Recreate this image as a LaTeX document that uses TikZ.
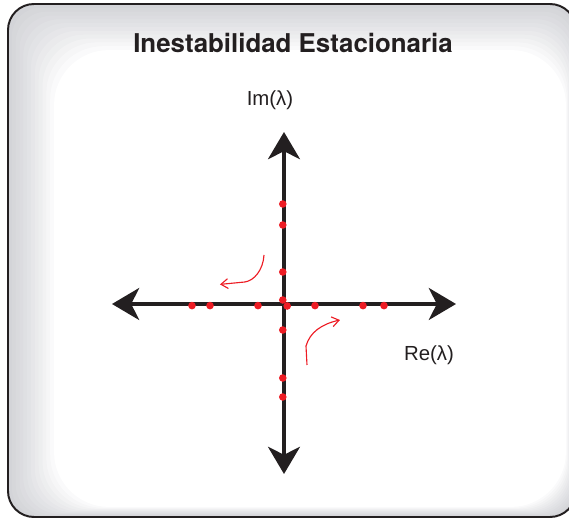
\documentclass[tikz,border=0pt]{standalone}
\usepackage{fontspec}
\setmainfont{Liberation Sans}
\newfontfamily\titlefont{TeX Gyre Heros}
\usepackage{xcolor}
\usepackage{tikz}
\usetikzlibrary{arrows.meta, positioning}
\definecolor{myred}{HTML}{ED1C24}
\definecolor{myblack}{HTML}{231F20}
\definecolor{shadowgray}{HTML}{9496A0}

\begin{document}
\begin{tikzpicture}[
  axis/.style={line width=2.5pt, color=myblack, {Stealth[length=0.68cm, width=0.8cm, inset=0.2cm]}-{Stealth[length=0.68cm, width=0.8cm, inset=0.2cm]}},
  root/.style={circle, fill=myred, inner sep=0pt, minimum size=0.19cm},
  path/.style={-{Straight Barb[length=5pt, width=7pt]}, line width=0.8pt, color=myred},
  label/.style={font=\fontsize{14.5}{16}\selectfont, text=myblack},
  title/.style={font=\titlefont\bfseries\fontsize{18.4}{20}\selectfont, text=myblack},
]
\useasboundingbox (-7.1,-5.4) rectangle (7.125,7.6);

% frame with inner shadow
\begin{scope}
  \clip[rounded corners=0.65cm] (-6.9,-5.325) rectangle (7.3,7.5);
  \foreach \i [evaluate=\i as \r using 0.65+0.06*\i] in {1,...,12}
    \fill[shadowgray, opacity=0.045, even odd rule] (-8,-7) rectangle (9,9)
      [rounded corners=\r cm] (-6.9+0.096*\i,-5.325+0.021*\i) rectangle (7.3-0.021*\i,7.5-0.096*\i);
\end{scope}
\draw[myblack, line width=1.4pt, rounded corners=0.65cm] (-6.9,-5.325) rectangle (7.3,7.5);

\node[title] (title) at (0.225,6.525) {Inestabilidad Estacionaria};

% axes
\coordinate (o) at (0,0);
\coordinate (west) at (-4.3,0);
\coordinate (east) at (4.3,0);
\coordinate (north) at (0,4.3);
\coordinate (south) at (0,-4.25);
\draw[axis] (west) -- (east);
\draw[axis] (south) -- (north);

\node[label] (im) at (-0.35,5.1) {Im(λ)};
\node[label] (re) at (3.625,-1.275) {Re(λ)};

% eigenvalues
\foreach \y [count=\k] in {2.5,1.975,0.8,-0.65,-1.85,-2.325}
  \node[root] (v\k) at (-0.03,\y) {};
\foreach \x [count=\k] in {-2.3,-1.85,-0.65,0.775,1.975,2.5}
  \node[root] (h\k) at (\x,-0.04) {};
\node[root] (c1) at (-0.03,0.1) {};
\node[root] (c2) at (0.08,-0.05) {};

% motion of the roots
\coordinate (a1) at (-0.5,1.225);
\coordinate (a2) at (-1.6,0.49);
\coordinate (b1) at (0.575,-1.525);
\coordinate (b2) at (1.4,-0.4);
\draw[path] (a1) .. controls (-0.52,0.85) and (-0.75,0.58) .. (-0.98,0.55) -- (a2);
\draw[path] (b1) -- (0.55,-1.05) .. controls (0.65,-0.7) and (0.95,-0.5) .. (b2);
\end{tikzpicture}
\end{document}
